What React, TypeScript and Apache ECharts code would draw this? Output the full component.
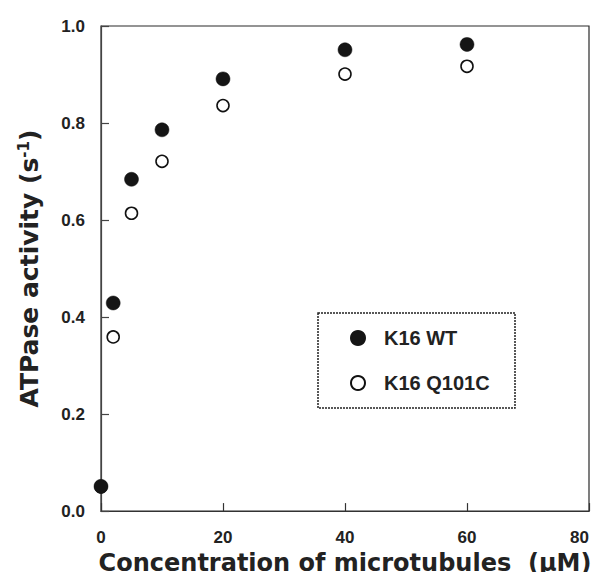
import React, { useEffect, useRef } from "react";
import * as echarts from "echarts";

const concentrations = [0, 2, 5, 10, 20, 40, 60];
const wtActivity = [0.051, 0.429, 0.684, 0.786, 0.891, 0.951, 0.962];
const q101cActivity = [0.05, 0.359, 0.614, 0.721, 0.836, 0.901, 0.917];
const seriesNames = ["K16 WT", "K16 Q101C"];

const FONT = "'Liberation Sans', Arial, Helvetica, sans-serif";
const NAME_FONT = "'DejaVu Sans', 'Liberation Sans', sans-serif";

export default function App() {
  const ref = useRef<HTMLDivElement>(null);
  useEffect(() => {
    if (!ref.current) return;
    const chart = echarts.init(ref.current, null, { renderer: "svg" });
    const toPairs = (ys: number[]) => concentrations.map((x, i) => [x, ys[i]]);
    chart.setOption({
      animation: false,
      backgroundColor: "#ffffff",
      grid: {
        left: 101,
        right: 11,
        top: 26,
        bottom: 67,
        show: true,
        borderColor: "#2a2a2a",
        borderWidth: 1.2,
      },
      xAxis: {
        type: "value",
        min: 0,
        max: 80,
        interval: 20,
        name: "Concentration of microtubules  (μM)",
        nameLocation: "middle",
        nameGap: 37,
        nameTextStyle: {
          fontFamily: NAME_FONT,
          fontWeight: "bold",
          fontSize: 24,
          color: "#222",
          verticalAlign: "top",
        },
        axisLine: { show: true, lineStyle: { color: "#333", width: 1.2 } },
        axisTick: { show: true, inside: true, length: 8, lineStyle: { color: "#333", width: 1.2 } },
        axisLabel: {
          margin: 18,
          fontFamily: FONT,
          fontWeight: "bold",
          fontSize: 17,
          color: "#222",
          alignMaxLabel: "right",
        },
        splitLine: { show: false },
      },
      yAxis: {
        type: "value",
        min: 0,
        max: 1,
        interval: 0.2,
        name: "ATPase activity (s{sup|-1})",
        nameLocation: "middle",
        nameGap: 58,
        nameTextStyle: {
          fontFamily: NAME_FONT,
          fontWeight: "bold",
          fontSize: 25,
          color: "#222",
          rich: {
            sup: {
              fontFamily: NAME_FONT,
              fontWeight: "bold",
              fontSize: 15,
              color: "#222",
              verticalAlign: "top",
              padding: [0, 0, 12, 0],
            },
          },
        },
        axisLine: { show: true, lineStyle: { color: "#444", width: 1.2 } },
        axisTick: { show: true, inside: true, length: 8, lineStyle: { color: "#444", width: 1.2 } },
        axisLabel: {
          margin: 16,
          fontFamily: FONT,
          fontWeight: "bold",
          fontSize: 17,
          color: "#222",
          formatter: (v: number) => v.toFixed(1),
        },
        splitLine: { show: false },
      },
      legend: {
        orient: "vertical",
        left: 350,
        top: 328,
        padding: 0,
        itemWidth: 14,
        itemHeight: 14,
        itemGap: 25,
        data: seriesNames,
        textStyle: {
          fontFamily: FONT,
          fontWeight: "bold",
          fontSize: 20,
          lineHeight: 20,
          color: "#222",
          padding: [0, 0, 0, 14],
        },
      },
      graphic: [
        {
          type: "rect",
          shape: { x: 318, y: 313, width: 197, height: 95 },
          style: { fill: "none", stroke: "#222", lineWidth: 1.5, lineDash: [2, 1] },
          z: 10,
        },
      ],
      series: [
        {
          name: seriesNames[1],
          type: "scatter",
          data: toPairs(q101cActivity),
          symbol: "circle",
          symbolSize: 12,
          itemStyle: { color: "#ffffff", borderColor: "#111", borderWidth: 1.6, opacity: 1 },
          z: 2,
        },
        {
          name: seriesNames[0],
          type: "scatter",
          data: toPairs(wtActivity),
          symbol: "circle",
          symbolSize: 14,
          itemStyle: { color: "#151515", borderColor: "#151515", borderWidth: 0.5, opacity: 1 },
          z: 3,
        },
      ],
    });
    return () => chart.dispose();
  }, []);
  return <div ref={ref} style={{ width: 600, height: 580, margin: -8 }} />;
}
